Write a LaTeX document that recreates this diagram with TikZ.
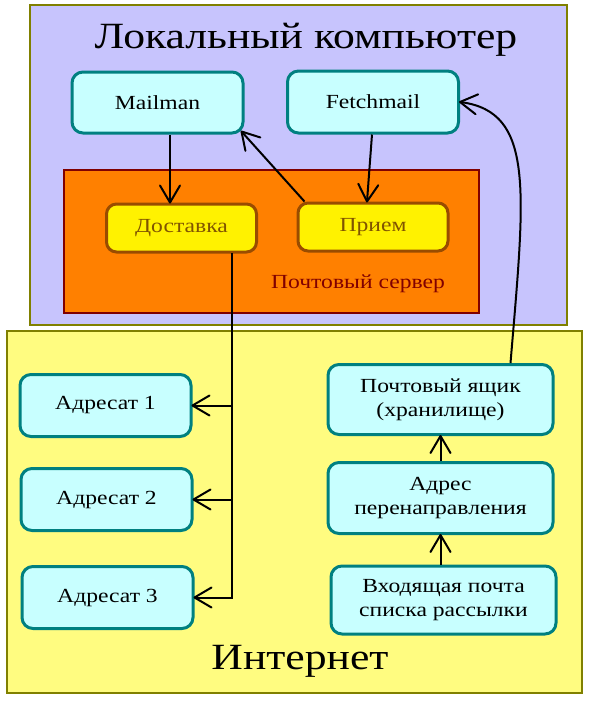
\documentclass[tikz,border=0pt]{standalone}
\usepackage{fontspec}
\setmainfont{Liberation Serif}[FakeStretch=1.18]
\usetikzlibrary{arrows.meta}
\pgfdeclarearrow{
  name = VBarb,
  defaults = { length = 17pt, width = 20pt },
  setup code = {
    \pgfarrowssettipend{0pt}
    \pgfarrowssetlineend{-0.5\pgflinewidth}
    \pgfarrowssetbackend{-\pgfarrowlength}
    \pgfarrowssetvisualbackend{-\pgfarrowlength}
    \pgfarrowsupperhullpoint{-\pgfarrowlength}{.5\pgfarrowwidth}
    \pgfarrowsupperhullpoint{0pt}{0pt}
    \pgfarrowssavethe\pgfarrowlength
    \pgfarrowssavethe\pgfarrowwidth
  },
  drawing code = {
    \pgfsetdash{}{0pt}
    \pgfsetroundjoin
    \pgfsetroundcap
    \pgfpathmoveto{\pgfqpoint{-\pgfarrowlength}{.5\pgfarrowwidth}}
    \pgfpathlineto{\pgfqpoint{0pt}{0pt}}
    \pgfpathlineto{\pgfqpoint{-\pgfarrowlength}{-.5\pgfarrowwidth}}
    \pgfusepathqstroke
  },
  parameters = { \the\pgfarrowlength,\the\pgfarrowwidth },
}
\definecolor{lilac}{RGB}{199,196,253}
\definecolor{olive}{RGB}{128,128,0}
\definecolor{paleyellow}{RGB}{255,252,128}
\definecolor{palecyan}{RGB}{200,255,255}
\definecolor{tealc}{RGB}{0,128,128}
\definecolor{orangec}{RGB}{255,128,0}
\definecolor{darkred}{RGB}{128,0,0}
\definecolor{brownc}{RGB}{153,76,0}
\definecolor{browntext}{RGB}{128,84,0}
\tikzset{
  area/.style={draw=olive, line width=2pt},
  cbox/.style={draw=tealc, fill=palecyan, line width=3pt, rounded corners=11pt,
     align=center, font=\fontsize{20}{24}\selectfont, inner sep=0pt},
  ybox/.style={draw=brownc, fill=yellow, line width=3pt, rounded corners=10pt,
     text=browntext, font=\fontsize{20}{24}\selectfont, inner sep=0pt,
     minimum width=150pt, minimum height=48pt},
  conn/.style={line width=2pt, -{VBarb[length=17pt,width=20pt]}},
}
\begin{document}
\begin{tikzpicture}[x=1pt,y=-1pt]
\useasboundingbox (0,0) rectangle (596,702);
% areas
\node[area, fill=lilac, minimum width=537pt, minimum height=320pt, inner sep=0pt] (local) at (298.5,165) {};
\node[area, fill=paleyellow, minimum width=575pt, minimum height=362pt, inner sep=0pt] (inet) at (294.5,512) {};
\node[font=\fontsize{37}{44}\selectfont] (ltitle) at (306,40) {Локальный компьютер};
\node[font=\fontsize{37}{44}\selectfont] (ititle) at (300,661) {Интернет};
% mail server
\node[draw=darkred, fill=orangec, line width=2.6pt, minimum width=415pt, minimum height=143pt, inner sep=0pt] (server) at (271.5,241.5) {};
\node[text=darkred, font=\fontsize{20}{24}\selectfont] (stitle) at (358,284) {Почтовый сервер};
% boxes
\node[cbox, minimum width=171pt, minimum height=61pt] (mail) at (157.5,102.5) {Mailman};
\node[cbox, minimum width=171pt, minimum height=62pt] (fetch) at (373,102) {Fetchmail};
\node[ybox] (dost) at (181.5,228) {Доставка};
\node[ybox] (priem) at (373,227) {Прием};
\node[cbox, minimum width=171pt, minimum height=62pt] (a1) at (105.5,405.5) {Адресат 1};
\node[cbox, minimum width=171pt, minimum height=62pt] (a2) at (106.5,499.5) {Адресат 2};
\node[cbox, minimum width=171pt, minimum height=62pt] (a3) at (107.5,597.5) {Адресат 3};
\node[cbox, minimum width=225pt, minimum height=70pt] (box) at (440.5,399.5) {Почтовый ящик\\(хранилище)};
\node[cbox, minimum width=225pt, minimum height=71pt] (fwd) at (440.5,498) {Адрес\\перенаправления};
\node[cbox, minimum width=225pt, minimum height=68pt] (list) at (443.5,600) {Входящая почта\\списка рассылки};
% connectors
\draw[conn] ([xshift=12.5pt]mail.south) -- ([xshift=-11.5pt]dost.north);
\draw[conn] ([xshift=-1pt]fetch.south) -- ([xshift=-6pt]priem.north);
\draw[conn] ([xshift=8pt]priem.north west) -- ([xshift=-3pt,yshift=3pt]mail.south east);
\coordinate (d0) at (232,253);
\draw[conn] (d0) |- (a3.east);
\draw[conn] (d0 |- a1.east) -- (a1.east);
\draw[conn] (d0 |- a2.east) -- (a2.east);
\draw[conn] (list.north -| fwd.south) -- (fwd.south);
\draw[conn] (fwd.north) -- (box.north |- box.south);
\draw[conn] ([xshift=70pt]box.north) .. controls (525,190) and (535,112) .. (fetch.east);
\end{tikzpicture}
\end{document}
